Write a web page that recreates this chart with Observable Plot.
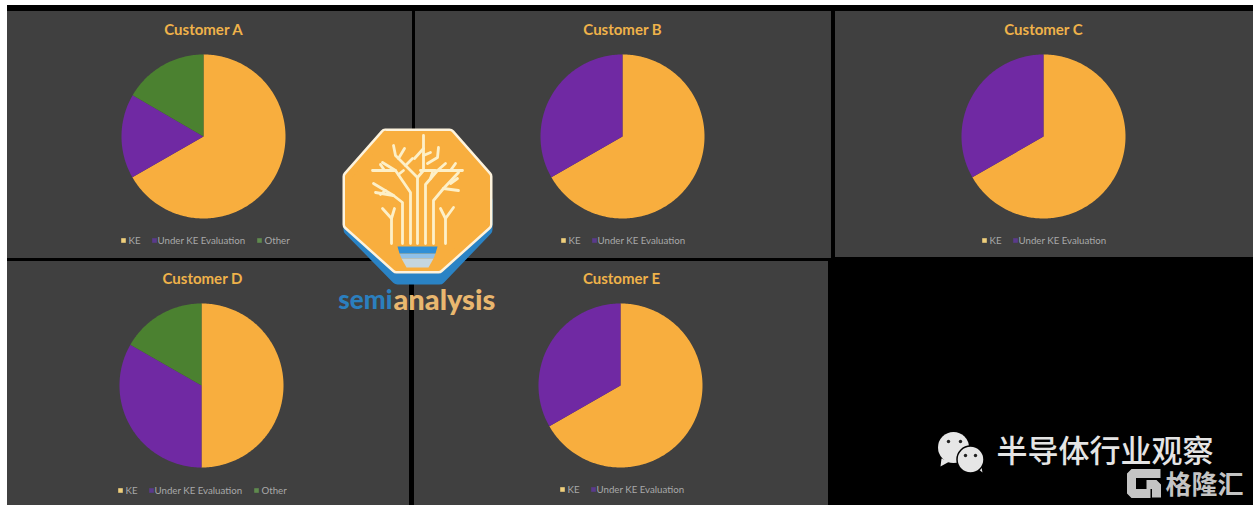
<!DOCTYPE html>
<html>
<head>
<meta charset="utf-8">
<title>KE share by customer</title>
<style>
  html, body { margin: 0; padding: 0; background: #fff; }
  svg { display: block; }
</style>
<script src="https://cdn.jsdelivr.net/npm/d3@7"></script>
<script src="https://cdn.jsdelivr.net/npm/@observablehq/plot@0.6"></script>
</head>
<body>
<div id="chart"></div>
<script>
// Share of each customer's tools, in percent
const customers = ["Customer A", "Customer B", "Customer C", "Customer D", "Customer E"];
const sliceNames = ["KE", "Under KE Evaluation", "Other"];
const keShare = [66.7, 66.7, 66.7, 50, 66.7];
const underEvaluation = [16.7, 33.3, 33.3, 33.3, 33.3];
const otherShare = [16.6, 0, 0, 16.7, 0];

// Colours
const sliceColors = ["#f8ae3e", "#7029a3", "#4b8130"];
const swatchColors = ["#efcf7c", "#5a3a8c", "#5f8a4e"];
const panelFill = "#404040";
const titleColor = "#efb24a";
const legendColor = "#a9a9a9";

// Panel frames and pie placement, in page pixels
const panelLeft = [7, 415, 835, 7, 414];
const panelRight = [412, 831, 1253, 409, 828];
const panelTop = [11, 11, 11, 261, 261];
const panelBottom = [258, 258, 257, 505, 505];
const pieX = [203, 622, 1043, 201, 620];
const pieY = [136, 136, 136, 385, 385];
const pieRadius = 82;
const titleY = [30, 30, 30, 279, 279];
const titleX = [203, 622, 1043, 202, 621];
const legendY = [240, 240, 240, 490, 489];
const legendStart = [121, 561, 982, 118, 560];

const panels = customers.map((name, i) => ({
  name, x1: panelLeft[i], x2: panelRight[i], y1: panelTop[i], y2: panelBottom[i]
}));

// Turn each customer's shares into filled wedge outlines
const pie = d3.pie().sort(null);
const wedgePoints = customers.flatMap((name, i) => {
  const shares = [keShare[i], underEvaluation[i], otherShare[i]];
  return pie(shares).flatMap((arc, s) => {
    if (arc.value === 0) return [];
    const key = `${name}-${s}`;
    const color = sliceColors[s];
    const steps = Math.ceil((arc.endAngle - arc.startAngle) / (Math.PI / 180));
    const rim = d3.range(steps + 1).map((k) => {
      const a = arc.startAngle + (arc.endAngle - arc.startAngle) * k / steps;
      return {key, color, x: pieX[i] + pieRadius * Math.sin(a), y: pieY[i] - pieRadius * Math.cos(a)};
    });
    return [{key, color, x: pieX[i], y: pieY[i]}, ...rim];
  });
});

// Legend rows: only the series a customer actually has are listed
const swatchOffset = [0, 31, 136];
const labelOffset = [7, 36, 143];
const legendSwatches = [];
const legendLabels = [];
customers.forEach((name, i) => {
  const shares = [keShare[i], underEvaluation[i], otherShare[i]];
  sliceNames.forEach((label, s) => {
    if (shares[s] === 0) return;
    legendSwatches.push({x: legendStart[i] + swatchOffset[s] + 2, y: legendY[i], color: swatchColors[s]});
    legendLabels.push({x: legendStart[i] + labelOffset[s], y: legendY[i], label});
  });
});

// SemiAnalysis emblem
const emblemShadow = [[349,200],[349,229],[397,278],[439,278],[486,229],[486,200]];
const emblemBody = [[385,134],[449,134],[486,176],[486,224],[438,267],[396,267],[348,224],[348,176]];
const emblemBase = [[397,246],[437,246],[435,253],[399,253]];
const emblemBand = [[399,253],[435,253],[433,258],[401,258]];
const emblemGlass = [[401,258],[433,258],[428,267],[406,267]];
const emblemBranches = [
  [[391,243],[391,218],[382,208]], [[391,218],[394,208]],
  [[402,243],[402,202],[393,195],[375,192]], [[393,195],[373,183]], [[385,190],[380,194]],
  [[410,243],[410,192],[395,170],[372,170]], [[395,170],[382,162]], [[398,174],[403,170]], [[384,170],[380,164]],
  [[417,243],[417,177],[395,155],[393,145]], [[405,165],[412,158]], [[398,158],[404,148]],
  [[417,177],[423,170],[423,135]],
  [[425,243],[425,184],[437,170],[462,170]], [[430,178],[432,172]], [[437,170],[445,163]], [[450,170],[455,163]],
  [[433,243],[433,200],[443,188],[458,172]], [[443,188],[458,190]], [[450,183],[457,178]],
  [[445,243],[445,218],[440,208]], [[445,218],[453,207]],
  [[427,163],[437,157],[438,147]], [[423,155],[430,152]], [[420,170],[435,170]], [[423,148],[414,158]]
];

// Watermark shapes
const bubbleTails = [[[941,458],[940,466],[949,461]], [[976,467],[982,472],[980,462]]];
const gMark = [[[1160,473],[1131,473],[1131,493],[1150,493]], [[1146,484],[1156,484],[1156,497]]];

const toPolygons = (shapes, color) => shapes.flatMap((pts, g) =>
  pts.map(([x, y]) => ({x, y, g, color})));
const toPoints = (pts) => pts.map(([x, y]) => ({x, y}));

const branchPoints = toPolygons(emblemBranches, "#fdf0c8");
const uiFont = "Lato, 'Open Sans', sans-serif";
const cjkFont = "'Noto Sans CJK SC', sans-serif";

const chart = Plot.plot({
  width: 1253,
  height: 505,
  margin: 0,
  x: {domain: [0, 1253], range: [0, 1253], axis: null},
  y: {domain: [0, 505], range: [0, 505], axis: null},
  style: {background: "#fff"},
  marks: [
    // Page background and panels
    Plot.rect([{x1: 7, x2: 1253, y1: 5, y2: 505}], {x1: "x1", x2: "x2", y1: "y1", y2: "y2", fill: "#000"}),
    Plot.rect(panels, {x1: "x1", x2: "x2", y1: "y1", y2: "y2", fill: panelFill}),

    // Pies
    Plot.line(wedgePoints, {x: "x", y: "y", z: "key", fill: "color", stroke: "none"}),

    // Titles
    Plot.text(customers, {
      x: (d, i) => titleX[i], y: (d, i) => titleY[i], text: (d) => d,
      fill: titleColor, fontSize: 15, fontWeight: "bold", fontFamily: uiFont
    }),

    // Legends
    Plot.dot(legendSwatches, {x: "x", y: "y", fill: "color", r: 2.6, symbol: "square", stroke: "none"}),
    Plot.text(legendLabels, {
      x: "x", y: "y", text: "label", textAnchor: "start",
      fill: legendColor, fontSize: 9.7, fontFamily: uiFont
    }),

    // Emblem: thick round-joined strokes give the octagon its soft corners
    Plot.line(toPoints(emblemShadow), {x: "x", y: "y", fill: "#2a83c5", stroke: "#2a83c5", strokeWidth: 12, strokeLinejoin: "round"}),
    Plot.line(toPoints([...emblemBody, emblemBody[0]]), {x: "x", y: "y", fill: "#fdf3dd", stroke: "#fdf3dd", strokeWidth: 12, strokeLinejoin: "round"}),
    Plot.line(toPoints([...emblemBody, emblemBody[0]]), {x: "x", y: "y", fill: "#f8ae3e", stroke: "#f8ae3e", strokeWidth: 7, strokeLinejoin: "round"}),
    Plot.line(branchPoints, {x: "x", y: "y", z: "g", stroke: "color", strokeWidth: 2.8, curve: "linear"}),
    Plot.line(toPoints(emblemGlass), {x: "x", y: "y", fill: "#c5d6df", stroke: "none"}),
    Plot.line(toPoints(emblemBand), {x: "x", y: "y", fill: "#8fc0e8", stroke: "none"}),
    Plot.line(toPoints(emblemBase), {x: "x", y: "y", fill: "#2f8fd6", stroke: "none"}),
    Plot.text(["semi"], {
      x: () => 392, y: () => 300, text: (d) => d, textAnchor: "end",
      fill: "#2b7fbe", fontSize: 26, fontWeight: 900, fontFamily: uiFont
    }),
    Plot.text(["analysis"], {
      x: () => 393, y: () => 300, text: (d) => d, textAnchor: "start",
      fill: "#e9b76f", fontSize: 29, fontWeight: 900, fontFamily: uiFont
    }),

    // Watermark
    Plot.line(toPolygons(bubbleTails, "#e6e6e6"), {x: "x", y: "y", z: "g", fill: "color", stroke: "none"}),
    Plot.dot([{x: 953, y: 447}], {x: "x", y: "y", r: 15.5, fill: "#e6e6e6"}),
    Plot.dot([{x: 970, y: 459}], {x: "x", y: "y", r: 13.5, fill: "#e6e6e6", stroke: "#000", strokeWidth: 1.5}),
    Plot.dot([{x: 948, y: 441}, {x: 960, y: 441}, {x: 965, y: 455}, {x: 975, y: 455}], {x: "x", y: "y", r: 1.7, fill: "#222"}),
    Plot.text(["半导体行业观察"], {
      x: () => 996, y: () => 452, text: (d) => d, textAnchor: "start",
      fill: "#e4e4e4", fontSize: 31, fontWeight: 500, fontFamily: cjkFont
    }),
    Plot.line(toPolygons(gMark, "#c4c4c4"), {x: "x", y: "y", z: "g", stroke: "color", strokeWidth: 9, strokeLinejoin: "miter", strokeLinecap: "butt"}),
    Plot.text(["格隆汇"], {
      x: () => 1165, y: () => 485, text: (d) => d, textAnchor: "start",
      fill: "#c4c4c4", fontSize: 26, fontWeight: 700, fontFamily: cjkFont
    })
  ]
});

document.getElementById("chart").append(chart);
</script>
</body>
</html>
